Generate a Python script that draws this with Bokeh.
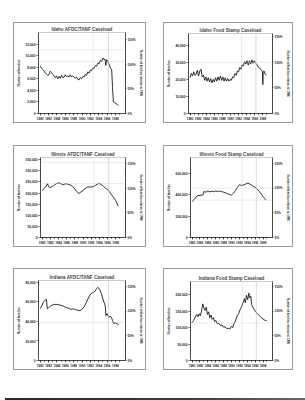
from bokeh.plotting import figure
from bokeh.models import (Range1d, LinearAxis, FixedTicker, NumeralTickFormatter,
                          PrintfTickFormatter, Span, Spacer, Div)
from bokeh.layouts import column, row
from bokeh.embed import file_html
from bokeh.resources import INLINE

FONT = "Liberation Sans"

year_ticks = [1980, 1982, 1984, 1986, 1988, 1990, 1992, 1994, 1996, 1998]
pct_ticks = [0, 50, 100, 150]

# ---- Idaho AFDC/TANF caseload (families) ----
idaho_afdc_x = [1980.0, 1980.3, 1980.6, 1980.9, 1981.2, 1981.5, 1981.8, 1982.1, 1982.4, 1982.7,
                1983.0, 1983.3, 1983.6, 1983.9, 1984.2, 1984.5, 1984.8, 1985.1, 1985.4, 1985.7,
                1986.0, 1986.3, 1986.6, 1986.9, 1987.2, 1987.5, 1987.8, 1988.1, 1988.4, 1988.7,
                1989.0, 1989.3, 1989.6, 1989.9, 1990.2, 1990.5, 1990.8, 1991.1, 1991.4, 1991.7,
                1992.0, 1992.3, 1992.6, 1992.9, 1993.2, 1993.5, 1993.8, 1994.1, 1994.4, 1994.7,
                1995.0, 1995.3, 1995.5, 1995.7, 1995.9, 1996.2, 1996.5, 1996.8, 1997.0, 1997.1,
                1997.3, 1997.5, 1997.8, 1998.1, 1998.4, 1998.7]
idaho_afdc_y = [8200, 7900, 7600, 7400, 7000, 6800, 6600, 6700, 7300, 7100,
                6800, 6500, 6200, 6500, 6000, 6400, 6100, 6600, 6200, 6300,
                6700, 6400, 6500, 6300, 6700, 6300, 6500, 6300, 6100, 6300,
                5900, 5800, 6200, 6000, 6400, 6300, 6800, 6600, 7200, 7000,
                7500, 7400, 7900, 7800, 8300, 8200, 8700, 8600, 9200, 9000,
                9600, 9300, 9400, 8300, 9300, 8900, 8500, 7800, 7700, 7500,
                4500, 2000, 1900, 1700, 1600, 1400]

# ---- Idaho Food Stamp caseload ----
idaho_fs_x = [1980.0, 1980.3, 1980.6, 1980.9, 1981.2, 1981.5, 1981.8, 1982.1, 1982.4, 1982.7,
              1983.0, 1983.3, 1983.6, 1983.9, 1984.2, 1984.5, 1984.8, 1985.1, 1985.4, 1985.7,
              1986.0, 1986.3, 1986.6, 1986.9, 1987.2, 1987.5, 1987.8, 1988.1, 1988.4, 1988.7,
              1989.0, 1989.3, 1989.6, 1989.9, 1990.2, 1990.5, 1990.8, 1991.1, 1991.4, 1991.7,
              1992.0, 1992.3, 1992.6, 1992.9, 1993.2, 1993.5, 1993.8, 1994.1, 1994.4, 1994.7,
              1995.0, 1995.3, 1995.6, 1995.9, 1996.2, 1996.5, 1996.8, 1997.1, 1997.4, 1997.7,
              1997.9, 1998.0, 1998.1, 1998.3, 1998.6, 1998.9]
idaho_fs_y = [21000, 23500, 22000, 24500, 22500, 23000, 25500, 22000, 25000, 26000,
              21500, 22500, 19500, 21500, 19000, 21000, 18500, 20500, 18000, 20000,
              18500, 21000, 19000, 21500, 19500, 22000, 19500, 21500, 19000, 21000,
              19000, 20500, 19000, 20000, 19500, 21500, 21000, 23500, 22500, 25000,
              24500, 27000, 26000, 28500, 28000, 30500, 29000, 31000, 28500, 31000,
              29000, 31500, 29500, 31000, 29500, 29000, 27500, 27000, 26000, 25500,
              24500, 17000, 24000, 25000, 23000, 22500]

# ---- Illinois AFDC/TANF caseload ----
illinois_afdc_x = [1980.0, 1980.5, 1981.0, 1981.3, 1981.6, 1982.0, 1982.5, 1983.0, 1983.5, 1984.0,
                   1984.5, 1985.0, 1985.5, 1986.0, 1986.5, 1987.0, 1987.5, 1988.0, 1988.5, 1989.0,
                   1989.5, 1990.0, 1990.5, 1991.0, 1991.5, 1992.0, 1992.5, 1993.0, 1993.5, 1994.0,
                   1994.5, 1995.0, 1995.5, 1996.0, 1996.5, 1997.0, 1997.5, 1998.0, 1998.3, 1998.6]
illinois_afdc_y = [212000, 220000, 232000, 242000, 228000, 225000, 230000, 236000, 243000, 246000,
                   243000, 238000, 240000, 242000, 238000, 236000, 228000, 218000, 206000, 198000,
                   205000, 212000, 220000, 226000, 228000, 227000, 229000, 234000, 240000, 243000,
                   238000, 230000, 222000, 216000, 205000, 192000, 180000, 166000, 155000, 141000]

# ---- Illinois Food Stamp caseload ----
illinois_fs_x = [1980.0, 1980.5, 1981.0, 1981.5, 1982.0, 1982.5, 1982.8, 1983.0, 1983.5, 1984.0,
                 1984.5, 1985.0, 1985.5, 1986.0, 1986.5, 1987.0, 1987.5, 1988.0, 1988.5, 1989.0,
                 1989.5, 1990.0, 1990.5, 1991.0, 1991.5, 1992.0, 1992.5, 1993.0, 1993.5, 1994.0,
                 1994.5, 1995.0, 1995.5, 1996.0, 1996.5, 1997.0, 1997.5, 1998.0, 1998.4, 1998.7]
illinois_fs_y = [338000, 355000, 380000, 392000, 395000, 398000, 400000, 432000, 425000, 436000,
                 428000, 434000, 430000, 436000, 432000, 435000, 430000, 425000, 418000, 410000,
                 402000, 398000, 415000, 440000, 470000, 495000, 488000, 492000, 500000, 508000,
                 505000, 492000, 480000, 470000, 455000, 435000, 410000, 385000, 365000, 350000]

# ---- Indiana AFDC/TANF caseload ----
indiana_afdc_x = [1980.0, 1980.4, 1980.8, 1981.2, 1981.5, 1981.7, 1982.0, 1982.5, 1983.0, 1983.5,
                  1984.0, 1984.5, 1985.0, 1985.5, 1986.0, 1986.5, 1987.0, 1987.5, 1988.0, 1988.5,
                  1989.0, 1989.5, 1990.0, 1990.5, 1991.0, 1991.5, 1992.0, 1992.5, 1993.0, 1993.4,
                  1993.8, 1994.2, 1994.6, 1995.0, 1995.4, 1995.6, 1995.7, 1996.0, 1996.4, 1996.7,
                  1997.0, 1997.3, 1997.6, 1998.0, 1998.4, 1998.8]
indiana_afdc_y = [53000, 56000, 60000, 62000, 62500, 53000, 54000, 56000, 57000, 57500,
                  57500, 57000, 56500, 56000, 54500, 54000, 53000, 52500, 53000, 52000,
                  51500, 51000, 52500, 55000, 59000, 64000, 68000, 69500, 70500, 73000,
                  75000, 73000, 69000, 63000, 58000, 55000, 46000, 48000, 44000, 45500,
                  44500, 41000, 38000, 38500, 37500, 37000]

# ---- Indiana Food Stamp caseload ----
indiana_fs_x = [1980.0, 1980.4, 1980.8, 1981.2, 1981.5, 1981.8, 1982.1, 1982.4, 1982.7, 1983.0,
                1983.3, 1983.6, 1983.9, 1984.2, 1984.5, 1984.8, 1985.1, 1985.4, 1985.7, 1986.0,
                1986.4, 1986.8, 1987.2, 1987.6, 1988.0, 1988.4, 1988.8, 1989.2, 1989.6, 1990.0,
                1990.3, 1990.6, 1991.0, 1991.4, 1991.8, 1992.2, 1992.6, 1993.0, 1993.3, 1993.5,
                1993.8, 1994.1, 1994.4, 1994.6, 1994.9, 1995.1, 1995.5, 1996.0, 1996.5, 1997.0,
                1997.5, 1998.0, 1998.5, 1998.9]
indiana_fs_y = [115000, 122000, 132000, 140000, 133000, 142000, 136000, 150000, 172000, 160000,
                152000, 162000, 140000, 148000, 130000, 138000, 125000, 130000, 118000, 122000,
                112000, 113000, 106000, 108000, 101000, 102000, 97000, 98000, 96000, 104000,
                100000, 112000, 120000, 135000, 142000, 155000, 165000, 178000, 188000, 175000,
                198000, 185000, 205000, 190000, 195000, 170000, 160000, 150000, 143000, 137000,
                131000, 126000, 122000, 121000]

# 1996 caseload, used as the 100% level of the right-hand axis
base_1996 = [8500, 30000, 221000, 463000, 50600, 150000]
# upper end of each left axis
y_max = [14000, 47000, 360000, 750000, 82000, 240000]
left_ticks = [
    [0, 2000, 4000, 6000, 8000, 10000, 12000],
    [0, 10000, 20000, 30000, 40000],
    [0, 50000, 100000, 150000, 200000, 250000, 300000, 350000],
    [0, 200000, 400000, 600000],
    [0, 20000, 40000, 60000, 80000],
    [0, 50000, 100000, 150000, 200000],
]
titles = ["Idaho AFDC/TANF Caseload", "Idaho Food Stamp Caseload",
          "Illinois AFDC/TANF Caseload", "Illinois Food Stamp Caseload",
          "Indiana AFDC/TANF Caseload", "Indiana Food Stamp Caseload"]
guide_levels = [[9000, 11000], [30000], [243000, 338000], [350000, 462000], [39000], [114000]]
reform_years = [1992.7, 1996.3]


def make_chart(title, xs, ys, ymax, yticks, base, guides, w, h, borders):
    left, right, top, bottom = borders
    p = figure(width=w, height=h, x_range=Range1d(1979.6, 2000.4), y_range=Range1d(0, ymax),
               output_backend="svg", toolbar_location=None,
               min_border_left=left, min_border_right=right,
               min_border_top=top, min_border_bottom=bottom,
               background_fill_color="white", border_fill_color="white")
    p.title.text = title
    p.title.text_font = FONT
    p.title.text_font_size = "4.6px"
    p.title.text_font_style = "bold"
    p.title.align = "center"
    p.title.standoff = 1
    p.title.offset = 0
    p.outline_line_color = "#b5b5b5"
    p.outline_line_width = 0.7
    p.grid.visible = False

    p.extra_y_ranges = {"pct": Range1d(0, ymax / base * 100)}

    for g in guides:
        p.add_layout(Span(location=g, dimension="width", line_color="#bdbdbd",
                          line_width=0.6, line_dash="1 1"))
    p.add_layout(Span(location=reform_years[0], dimension="height", line_color="#bdbdbd",
                      line_width=0.6, line_dash="1 1"))
    p.add_layout(Span(location=reform_years[1], dimension="height", line_color="#c8c8c8",
                      line_width=0.7))

    p.line(xs, ys, line_color="#1a1a1a", line_width=0.9)

    xa = p.xaxis[0]
    xa.ticker = FixedTicker(ticks=year_ticks, minor_ticks=list(range(1980, 2000)))
    ya = p.yaxis[0]
    ya.ticker = FixedTicker(ticks=yticks)
    ya.formatter = NumeralTickFormatter(format="0,0")
    ya.axis_label = "Number of families"

    ra = LinearAxis(y_range_name="pct", ticker=FixedTicker(ticks=pct_ticks),
                    formatter=PrintfTickFormatter(format="%d%%"),
                    axis_label="Number of families relative to 1996")
    p.add_layout(ra, "right")

    for ax in (xa, ya, ra):
        ax.axis_line_color = "#111111"
        ax.axis_line_width = 0.7
        ax.major_tick_line_color = "#111111"
        ax.major_tick_line_width = 0.6
        ax.major_tick_out = 2
        ax.major_tick_in = 0
        ax.minor_tick_out = 1
        ax.minor_tick_in = 0
        ax.minor_tick_line_color = "#111111"
        ax.major_label_text_font = FONT
        ax.major_label_text_font_style = "bold"
        ax.major_label_text_color = "#222222"
        ax.major_label_standoff = 1
        ax.axis_label_text_font = FONT
        ax.axis_label_text_font_style = "bold"
        ax.axis_label_text_color = "#222222"
        ax.axis_label_standoff = 2
    xa.major_label_text_font_size = "3px"
    ya.major_label_text_font_size = "3.3px"
    ra.major_label_text_font_size = "3.1px"
    ya.axis_label_text_font_size = "3px"
    ra.axis_label_text_font_size = "2.8px"
    ra.minor_tick_out = 0
    ra.major_tick_out = 1
    ra.major_label_standoff = 1
    ra.axis_label_standoff = 1
    ya.minor_tick_out = 0
    return p


def framed(p):
    # thin grey box drawn round the whole chart panel
    return column(p, styles={"border": "1px solid #9a9a9a", "background": "white"})


series_x = [idaho_afdc_x, idaho_fs_x, illinois_afdc_x, illinois_fs_x, indiana_afdc_x, indiana_fs_x]
series_y = [idaho_afdc_y, idaho_fs_y, illinois_afdc_y, illinois_fs_y, indiana_afdc_y, indiana_fs_y]
sizes = [(131, 99), (128, 99), (131, 100), (128, 100), (131, 100), (128, 100)]
borders = [(21, 14, 9, 8), (15, 12, 10, 7), (21, 16, 11, 8), (16, 12, 11, 8),
           (19, 16, 11, 9), (17, 10, 12, 8)]

charts = [framed(make_chart(titles[i], series_x[i], series_y[i], y_max[i], left_ticks[i],
                            base_1996[i], guide_levels[i], sizes[i][0], sizes[i][1], borders[i]))
          for i in range(6)]

band = Div(width=305, height=7,
           styles={"background": "linear-gradient(90deg, #2a2a2a, #3c3c3c 60%, #6a6a6a)"})

page = column(
    Spacer(width=305, height=22),
    row(Spacer(width=13, height=101), charts[0], Spacer(width=17, height=101), charts[1]),
    Spacer(width=305, height=22),
    row(Spacer(width=13, height=102), charts[2], Spacer(width=17, height=102), charts[3]),
    Spacer(width=305, height=21),
    row(Spacer(width=13, height=102), charts[4], Spacer(width=17, height=102), charts[5]),
    Spacer(width=305, height=23),
    band,
    styles={"background": "white"},
)

open("out.html", "w").write(file_html(page, INLINE))
